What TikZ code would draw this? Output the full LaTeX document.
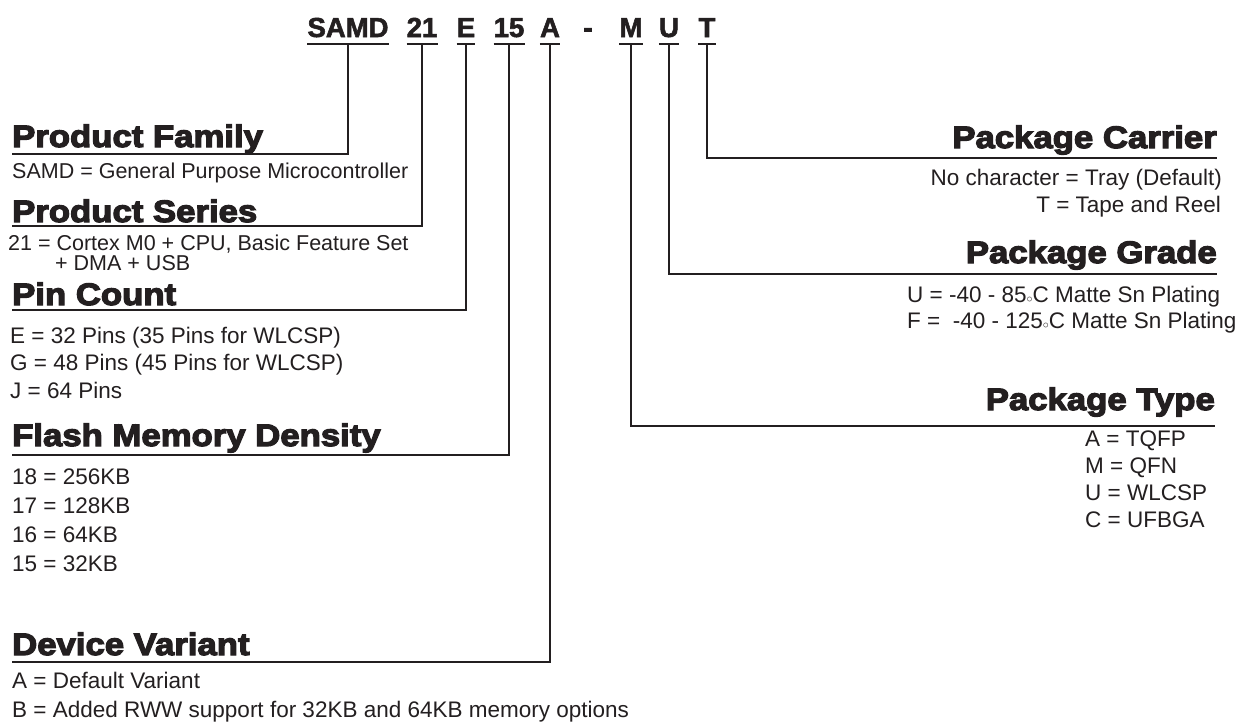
\documentclass[tikz,border=0pt]{standalone}
\usepackage{fontspec}
\setmainfont{Liberation Sans}
\newfontfamily\headfont{Liberation Sans}[BoldFeatures={FakeBold=4,FakeStretch=1.12}]
\newfontfamily\codefont{Liberation Sans}[BoldFeatures={FakeBold=2}]
\definecolor{ink}{HTML}{231F20}
\newcommand{\degc}{{\fontsize{12}{12}\selectfont$\circ$}}
\tikzset{
  conn/.style={line width=1.8pt, draw=ink},
  uline/.style={line width=1.5pt, draw=ink},
  code/.style={font=\codefont\bfseries\fontsize{27.5}{30}\selectfont, text=ink, inner sep=0pt, text depth=7pt, anchor=base},
  head/.style={font=\headfont\bfseries\fontsize{31}{34}\selectfont, text=ink, inner sep=0pt},
  body/.style={font=\fontsize{22.5}{26}\selectfont, text=ink, inner sep=0pt},
  bodys/.style={font=\fontsize{21.5}{24}\selectfont, text=ink, inner sep=0pt},
}
\begin{document}
\begin{tikzpicture}[x=1pt,y=-1pt]
\useasboundingbox[fill=white] (0,0) rectangle (1244,723);
% part number
\node[code] (samd) at (348,37) {SAMD};
\node[code] (ser)  at (422,37) {21};
\node[code] (pin)  at (466,37) {E};
\node[code] (fl)   at (509,37) {15};
\node[code] (var)  at (550,37) {A};
\node[code] (dash) at (588,37) {-};
\node[code] (pkt)  at (631,37) {M};
\node[code] (grd)  at (669,37) {U};
\node[code] (car)  at (707,37) {T};
\foreach \n in {samd,ser,pin,fl,var,pkt,grd,car}
  \draw[uline] (\n.south west) -- (\n.south east);
% left headings
\node[head, anchor=base west, text depth=7pt] (hpf) at (12,147) {Product Family};
\node[bodys, anchor=base west] (tpf) at (12,178) {SAMD = General Purpose Microcontroller};
\node[head, anchor=base west, text depth=4pt] (hps) at (12,222) {Product Series};
\node[bodys, anchor=base west] (tps1) at (8,250) {21 = Cortex M0 + CPU, Basic Feature Set};
\node[bodys, anchor=base west] (tps2) at (55,270) {+ DMA + USB};
\node[head, anchor=base west, text depth=5pt] (hpc) at (12,305) {Pin Count};
\node[body, anchor=base west] (tpc1) at (10,343) {E = 32 Pins (35 Pins for WLCSP)};
\node[body, anchor=base west] (tpc2) at (10,370) {G = 48 Pins (45 Pins for WLCSP)};
\node[body, anchor=base west] (tpc3) at (10,398) {J = 64 Pins};
\node[head, anchor=base west, text depth=9pt] (hfm) at (12,446) {Flash Memory Density};
\node[body, anchor=base west] (tfm1) at (12,484) {18 = 256KB};
\node[body, anchor=base west] (tfm2) at (12,513) {17 = 128KB};
\node[body, anchor=base west] (tfm3) at (12,542) {16 = 64KB};
\node[body, anchor=base west] (tfm4) at (12,571) {15 = 32KB};
\node[head, anchor=base west, text depth=7pt] (hdv) at (12,655) {Device Variant};
\node[body, anchor=base west] (tdv1) at (12,688) {A = Default Variant};
\node[body, anchor=base west] (tdv2) at (12,717) {B = Added RWW support for 32KB and 64KB memory options};
% right headings
\node[head, anchor=base east, text depth=10pt] (hcar) at (1217,148) {Package Carrier};
\node[body, anchor=base east] (tcar1) at (1222,185) {No character = Tray (Default)};
\node[body, anchor=base east] (tcar2) at (1221,212) {T = Tape and Reel};
\node[head, anchor=base east, text depth=11pt] (hgrd) at (1217,263) {Package Grade};
\node[body, anchor=base west] (tgrd1) at (907,302) {U = -40 - 85\degc C Matte Sn Plating};
\node[body, anchor=base west] (tgrd2) at (907,328) {F =\ \ -40 - 125\degc C Matte Sn Plating};
\node[head, anchor=base east, text depth=16pt] (hpkt) at (1215,410) {Package Type};
\node[body, anchor=base west] (tpkt1) at (1085,446) {A = TQFP};
\node[body, anchor=base west] (tpkt2) at (1085,473) {M = QFN};
\node[body, anchor=base west] (tpkt3) at (1085,500) {U = WLCSP};
\node[body, anchor=base west] (tpkt4) at (1085,527) {C = UFBGA};
% connectors
\draw[conn] (samd.south) |- (hpf.south west);
\draw[conn] (ser.south)  |- (hps.south west);
\draw[conn] (pin.south)  |- (hpc.south west);
\draw[conn] (fl.south)   |- (hfm.south west);
\draw[conn] (var.south)  |- (hdv.south west);
\draw[conn] (car.south)  |- (hcar.south east);
\draw[conn] (grd.south)  |- (hgrd.south east);
\draw[conn] (pkt.south)  |- (hpkt.south east);
\end{tikzpicture}
\end{document}
